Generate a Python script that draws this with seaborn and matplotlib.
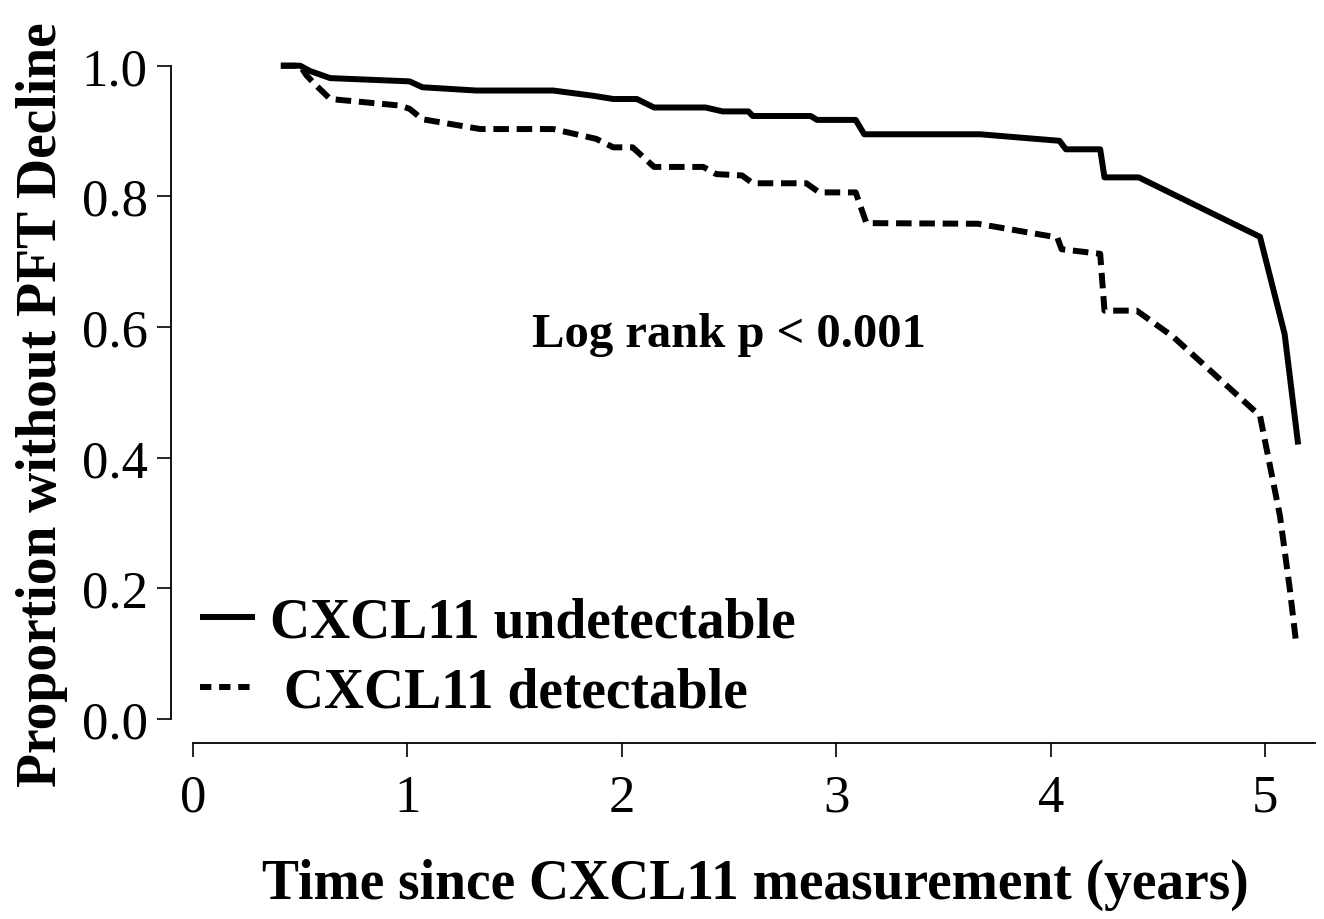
import numpy as np
import pandas as pd
import seaborn as sns
import matplotlib.pyplot as plt
from matplotlib.lines import Line2D

# Kaplan-Meier curves (time in years, proportion without decline)
undetect_t = [0.41, 0.50, 0.545, 0.64, 1.01, 1.07, 1.32, 1.68, 1.865, 1.96, 2.07, 2.15,
              2.39, 2.47, 2.59, 2.61, 2.88, 2.91, 3.09, 3.13, 3.67, 4.04, 4.07, 4.23,
              4.25, 4.41, 4.975, 5.09, 5.153]
undetect_s = [1.0, 1.0, 0.992, 0.981, 0.976, 0.967, 0.962, 0.962, 0.954, 0.949, 0.949, 0.936,
              0.936, 0.930, 0.930, 0.923, 0.923, 0.917, 0.917, 0.895, 0.895, 0.885, 0.872, 0.872,
              0.829, 0.829, 0.738, 0.589, 0.420]

detect_t = [0.41, 0.50, 0.53, 0.577, 0.64, 0.965, 1.01, 1.07, 1.34, 1.68, 1.88, 1.96, 2.05,
            2.15, 2.38, 2.44, 2.56, 2.61, 2.86, 2.92, 3.09, 3.14, 3.66, 4.03, 4.05, 4.23,
            4.25, 4.40, 4.57, 4.975, 5.068, 5.114, 5.145]
detect_s = [1.0, 1.0, 0.985, 0.969, 0.949, 0.939, 0.934, 0.918, 0.903, 0.903, 0.888, 0.875, 0.875,
            0.845, 0.845, 0.834, 0.832, 0.82, 0.82, 0.806, 0.806, 0.759, 0.758, 0.737, 0.719, 0.712,
            0.625, 0.625, 0.585, 0.464, 0.311, 0.199, 0.112]

group_labels = ["CXCL11 undetectable", " CXCL11 detectable"]
x_ticks = [0, 1, 2, 3, 4, 5]
y_ticks = [0.0, 0.2, 0.4, 0.6, 0.8, 1.0]
y_ticklabels = ["0.0", "0.2", "0.4", "0.6", "0.8", "1.0"]

df = pd.concat([
    pd.DataFrame({"time": undetect_t, "surv": undetect_s, "group": group_labels[0]}),
    pd.DataFrame({"time": detect_t, "surv": detect_s, "group": group_labels[1]}),
], ignore_index=True)

sns.set_style("ticks")
plt.rcParams['font.family'] = ['Liberation Serif', 'DejaVu Serif']
plt.rcParams['text.color'] = 'black'
plt.rcParams['axes.labelcolor'] = 'black'
plt.rcParams['xtick.color'] = 'black'
plt.rcParams['ytick.color'] = 'black'
plt.rcParams['axes.edgecolor'] = 'black'

fig = plt.figure(figsize=(13.24, 9.2), dpi=100)
ax = fig.add_axes([0.1295, 0.1913, 0.8667, 0.7504])

lw = 4.3
dash = (2.6, 1.3)
sns.lineplot(data=df, x="time", y="surv", hue="group", style="group",
             palette={group_labels[0]: "black", group_labels[1]: "black"},
             dashes={group_labels[0]: "", group_labels[1]: dash},
             sort=False, estimator=None, linewidth=lw, legend=False, ax=ax)
for ln in ax.get_lines():
    ln.set_dash_capstyle("butt")
    ln.set_solid_capstyle("butt")

ax.set_xlim(-0.1, 5.25)
ax.set_ylim(-0.037, 1.02)

# R-style detached axes
for side in ["top", "right"]:
    ax.spines[side].set_visible(False)
ax.spines["left"].set_bounds(0, 1)
ax.spines["bottom"].set_bounds(0, 5.23)
ax.spines["left"].set_linewidth(1.3)
ax.spines["bottom"].set_linewidth(1.3)

ax.set_xticks(x_ticks)
ax.set_xticklabels([str(t) for t in x_ticks])
ax.set_yticks(y_ticks)
ax.set_yticklabels(y_ticklabels)
ax.tick_params(axis="both", direction="out", length=10, width=1.2, labelsize=38,
               color="black", labelcolor="black", bottom=True, left=True)
ax.tick_params(axis="x", pad=12)
ax.tick_params(axis="y", pad=7)

ax.set_xlabel("Time since CXCL11 measurement (years)", fontsize=40, fontweight="bold")
ax.set_ylabel("Proportion without PFT Decline", fontsize=40, fontweight="bold")
ax.xaxis.label.set_va("center")
ax.yaxis.label.set_va("center")
ax.xaxis.set_label_coords(0.5085, -0.204)
ax.yaxis.set_label_coords(-0.113, 0.491)

ax.text(2.5, 0.571, "Log rank p < 0.001", ha="center", va="baseline",
        fontsize=35, fontweight="bold", color="black")

handles = [Line2D([0], [0], color="black", lw=lw, solid_capstyle="butt"),
           Line2D([0], [0], color="black", lw=lw, linestyle=(0, (1.9, 1.3)), dash_capstyle="butt")]
leg = ax.legend(handles, group_labels, loc="center left", bbox_to_anchor=(0.151, 0.284),
                bbox_transform=fig.transFigure, frameon=False, borderpad=0, borderaxespad=0,
                handlelength=1.0, handletextpad=0.27, labelspacing=0.32,
                prop={"size": 40, "weight": "bold"})
for t in leg.get_texts():
    t.set_color("black")

fig.savefig("out.png", dpi=100)
